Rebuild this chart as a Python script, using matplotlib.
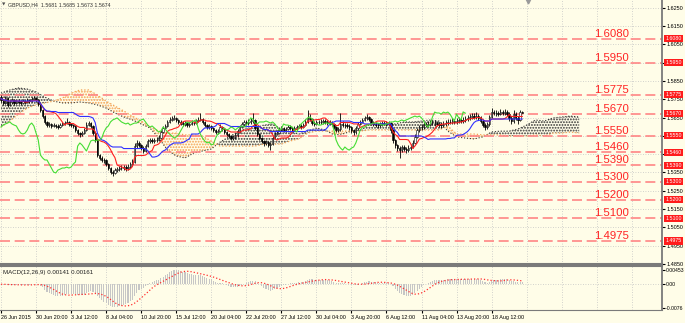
import numpy as np
import pandas as pd
import matplotlib
matplotlib.use("Agg")
import matplotlib.pyplot as plt
import matplotlib.transforms as mtransforms

# GBPUSD H4 candles, 26 Jun - 19 Aug 2015
first_open = 1.5762
close = [1.5746, 1.5730, 1.5757, 1.5719, 1.5735, 1.5746, 1.5730, 1.5740, 1.5735, 1.5730,
         1.5740, 1.5735, 1.5746, 1.5740, 1.5751, 1.5757, 1.5746, 1.5724, 1.5691, 1.5658,
         1.5626, 1.5609, 1.5615, 1.5604, 1.5609, 1.5604, 1.5598, 1.5609, 1.5615, 1.5620,
         1.5626, 1.5615, 1.5609, 1.5604, 1.5582, 1.5565, 1.5560, 1.5565, 1.5582, 1.5609,
         1.5620, 1.5604, 1.5565, 1.5527, 1.5445, 1.5429, 1.5418, 1.5418, 1.5396, 1.5374,
         1.5352, 1.5347, 1.5363, 1.5368, 1.5374, 1.5374, 1.5379, 1.5374, 1.5379, 1.5396,
         1.5407, 1.5494, 1.5511, 1.5500, 1.5483, 1.5467, 1.5494, 1.5522, 1.5527, 1.5522,
         1.5527, 1.5527, 1.5538, 1.5571, 1.5593, 1.5604, 1.5626, 1.5637, 1.5642, 1.5648,
         1.5637, 1.5626, 1.5620, 1.5615, 1.5620, 1.5609, 1.5615, 1.5620, 1.5620, 1.5631,
         1.5637, 1.5642, 1.5626, 1.5609, 1.5598, 1.5604, 1.5593, 1.5582, 1.5571, 1.5576,
         1.5598, 1.5587, 1.5571, 1.5560, 1.5549, 1.5538, 1.5544, 1.5555, 1.5576, 1.5598,
         1.5615, 1.5626, 1.5620, 1.5626, 1.5631, 1.5637, 1.5593, 1.5560, 1.5538, 1.5522,
         1.5511, 1.5516, 1.5500, 1.5505, 1.5538, 1.5560, 1.5565, 1.5582, 1.5593, 1.5582,
         1.5587, 1.5598, 1.5593, 1.5582, 1.5593, 1.5598, 1.5604, 1.5598, 1.5609, 1.5626,
         1.5648, 1.5642, 1.5620, 1.5615, 1.5626, 1.5626, 1.5626, 1.5631, 1.5626, 1.5620,
         1.5626, 1.5615, 1.5598, 1.5582, 1.5587, 1.5615, 1.5609, 1.5609, 1.5604, 1.5598,
         1.5582, 1.5571, 1.5593, 1.5615, 1.5626, 1.5637, 1.5648, 1.5653, 1.5642, 1.5620,
         1.5615, 1.5609, 1.5609, 1.5615, 1.5620, 1.5620, 1.5615, 1.5620, 1.5582, 1.5527,
         1.5500, 1.5483, 1.5472, 1.5489, 1.5478, 1.5472, 1.5483, 1.5489, 1.5511, 1.5544,
         1.5582, 1.5598, 1.5598, 1.5609, 1.5609, 1.5615, 1.5620, 1.5620, 1.5620, 1.5615,
         1.5609, 1.5609, 1.5615, 1.5620, 1.5626, 1.5626, 1.5631, 1.5626, 1.5631, 1.5637,
         1.5631, 1.5637, 1.5642, 1.5648, 1.5653, 1.5658, 1.5653, 1.5658, 1.5648, 1.5631,
         1.5609, 1.5598, 1.5615, 1.5653, 1.5680, 1.5675, 1.5675, 1.5669, 1.5680, 1.5675,
         1.5680, 1.5669, 1.5648, 1.5631, 1.5669, 1.5648, 1.5637, 1.5681, 1.5674]
high = [1.5773, 1.5751, 1.5768, 1.5762, 1.5746, 1.5757, 1.5751, 1.5746, 1.5751, 1.5746,
        1.5751, 1.5746, 1.5757, 1.5751, 1.5762, 1.5768, 1.5762, 1.5751, 1.5730, 1.5697,
        1.5664, 1.5631, 1.5626, 1.5620, 1.5620, 1.5615, 1.5615, 1.5620, 1.5626, 1.5631,
        1.5648, 1.5631, 1.5620, 1.5615, 1.5609, 1.5587, 1.5571, 1.5576, 1.5593, 1.5626,
        1.5631, 1.5626, 1.5609, 1.5571, 1.5533, 1.5451, 1.5440, 1.5429, 1.5423, 1.5401,
        1.5379, 1.5363, 1.5374, 1.5379, 1.5385, 1.5390, 1.5390, 1.5390, 1.5396, 1.5407,
        1.5423, 1.5511, 1.5527, 1.5522, 1.5505, 1.5494, 1.5505, 1.5533, 1.5538, 1.5538,
        1.5538, 1.5544, 1.5555, 1.5582, 1.5604, 1.5615, 1.5637, 1.5653, 1.5658, 1.5664,
        1.5653, 1.5642, 1.5637, 1.5631, 1.5631, 1.5626, 1.5626, 1.5637, 1.5631, 1.5642,
        1.5653, 1.5675, 1.5648, 1.5631, 1.5615, 1.5615, 1.5609, 1.5598, 1.5587, 1.5587,
        1.5615, 1.5604, 1.5593, 1.5576, 1.5565, 1.5555, 1.5555, 1.5565, 1.5587, 1.5609,
        1.5626, 1.5637, 1.5637, 1.5642, 1.5648, 1.5675, 1.5642, 1.5598, 1.5565, 1.5544,
        1.5527, 1.5527, 1.5522, 1.5516, 1.5549, 1.5571, 1.5582, 1.5593, 1.5604, 1.5598,
        1.5598, 1.5609, 1.5609, 1.5598, 1.5604, 1.5609, 1.5615, 1.5615, 1.5620, 1.5642,
        1.5691, 1.5669, 1.5648, 1.5631, 1.5637, 1.5637, 1.5642, 1.5642, 1.5642, 1.5637,
        1.5637, 1.5631, 1.5620, 1.5604, 1.5598, 1.5675, 1.5631, 1.5620, 1.5620, 1.5615,
        1.5604, 1.5587, 1.5604, 1.5626, 1.5637, 1.5648, 1.5658, 1.5669, 1.5658, 1.5648,
        1.5631, 1.5626, 1.5620, 1.5626, 1.5631, 1.5631, 1.5631, 1.5631, 1.5626, 1.5587,
        1.5533, 1.5505, 1.5494, 1.5500, 1.5500, 1.5489, 1.5500, 1.5505, 1.5527, 1.5560,
        1.5593, 1.5609, 1.5615, 1.5626, 1.5626, 1.5631, 1.5637, 1.5637, 1.5637, 1.5631,
        1.5626, 1.5626, 1.5631, 1.5637, 1.5642, 1.5642, 1.5648, 1.5642, 1.5648, 1.5653,
        1.5648, 1.5653, 1.5658, 1.5664, 1.5669, 1.5675, 1.5675, 1.5680, 1.5669, 1.5658,
        1.5642, 1.5620, 1.5626, 1.5664, 1.5702, 1.5691, 1.5691, 1.5686, 1.5697, 1.5691,
        1.5697, 1.5691, 1.5680, 1.5658, 1.5691, 1.5680, 1.5658, 1.5691, 1.5685]
low = [1.5735, 1.5719, 1.5724, 1.5708, 1.5713, 1.5724, 1.5719, 1.5724, 1.5724, 1.5719,
       1.5724, 1.5724, 1.5730, 1.5730, 1.5735, 1.5746, 1.5735, 1.5713, 1.5680, 1.5648,
       1.5615, 1.5598, 1.5598, 1.5593, 1.5598, 1.5593, 1.5587, 1.5593, 1.5604, 1.5609,
       1.5615, 1.5604, 1.5598, 1.5593, 1.5571, 1.5555, 1.5544, 1.5549, 1.5560, 1.5576,
       1.5604, 1.5593, 1.5555, 1.5516, 1.5434, 1.5418, 1.5407, 1.5401, 1.5385, 1.5363,
       1.5341, 1.5330, 1.5341, 1.5352, 1.5358, 1.5363, 1.5363, 1.5358, 1.5363, 1.5374,
       1.5390, 1.5401, 1.5483, 1.5489, 1.5472, 1.5456, 1.5462, 1.5489, 1.5511, 1.5511,
       1.5511, 1.5516, 1.5522, 1.5533, 1.5565, 1.5587, 1.5598, 1.5620, 1.5631, 1.5637,
       1.5626, 1.5615, 1.5609, 1.5604, 1.5604, 1.5598, 1.5598, 1.5609, 1.5609, 1.5615,
       1.5626, 1.5631, 1.5615, 1.5598, 1.5587, 1.5587, 1.5582, 1.5571, 1.5560, 1.5560,
       1.5587, 1.5576, 1.5560, 1.5549, 1.5538, 1.5527, 1.5527, 1.5533, 1.5544, 1.5565,
       1.5593, 1.5604, 1.5609, 1.5609, 1.5615, 1.5620, 1.5582, 1.5549, 1.5527, 1.5511,
       1.5494, 1.5500, 1.5489, 1.5472, 1.5500, 1.5533, 1.5555, 1.5560, 1.5576, 1.5571,
       1.5571, 1.5582, 1.5582, 1.5571, 1.5576, 1.5582, 1.5593, 1.5587, 1.5593, 1.5604,
       1.5620, 1.5631, 1.5609, 1.5604, 1.5609, 1.5615, 1.5615, 1.5615, 1.5615, 1.5609,
       1.5609, 1.5604, 1.5587, 1.5571, 1.5571, 1.5576, 1.5598, 1.5593, 1.5593, 1.5582,
       1.5565, 1.5555, 1.5560, 1.5582, 1.5609, 1.5620, 1.5631, 1.5637, 1.5631, 1.5609,
       1.5604, 1.5598, 1.5593, 1.5598, 1.5604, 1.5609, 1.5604, 1.5604, 1.5565, 1.5511,
       1.5483, 1.5467, 1.5429, 1.5462, 1.5467, 1.5456, 1.5462, 1.5472, 1.5483, 1.5505,
       1.5538, 1.5571, 1.5582, 1.5587, 1.5598, 1.5598, 1.5604, 1.5609, 1.5604, 1.5604,
       1.5598, 1.5593, 1.5598, 1.5604, 1.5609, 1.5615, 1.5615, 1.5615, 1.5615, 1.5620,
       1.5620, 1.5620, 1.5626, 1.5631, 1.5637, 1.5642, 1.5642, 1.5642, 1.5637, 1.5620,
       1.5598, 1.5582, 1.5587, 1.5604, 1.5648, 1.5664, 1.5658, 1.5658, 1.5664, 1.5664,
       1.5664, 1.5658, 1.5631, 1.5615, 1.5620, 1.5637, 1.5615, 1.5631, 1.5673]

# Ichimoku cloud spans (read every 4 bars, bar 0 .. 264)
span_bars = list(range(0, 265, 4))
span_a = [1.5784, 1.5801, 1.5812, 1.5806, 1.5790, 1.5762, 1.5740, 1.5730, 1.5730, 1.5735,
          1.5730, 1.5719, 1.5702, 1.5675, 1.5653, 1.5637, 1.5615, 1.5593, 1.5538, 1.5472,
          1.5440, 1.5429, 1.5456, 1.5467, 1.5478, 1.5516, 1.5544, 1.5571, 1.5593, 1.5593,
          1.5609, 1.5615, 1.5587, 1.5571, 1.5560, 1.5576, 1.5593, 1.5582, 1.5555, 1.5560,
          1.5576, 1.5582, 1.5609, 1.5615, 1.5615, 1.5615, 1.5626, 1.5626, 1.5631, 1.5637,
          1.5631, 1.5576, 1.5544, 1.5538, 1.5533, 1.5544, 1.5571, 1.5576, 1.5576, 1.5587,
          1.5609, 1.5637, 1.5631, 1.5648, 1.5653, 1.5658, 1.5653]
span_b = [1.5598, 1.5631, 1.5669, 1.5702, 1.5719, 1.5730, 1.5740, 1.5757, 1.5784, 1.5801,
          1.5801, 1.5773, 1.5740, 1.5713, 1.5686, 1.5658, 1.5631, 1.5598, 1.5576, 1.5565,
          1.5565, 1.5555, 1.5555, 1.5549, 1.5522, 1.5494, 1.5494, 1.5494, 1.5494, 1.5494,
          1.5505, 1.5505, 1.5505, 1.5522, 1.5533, 1.5565, 1.5576, 1.5576, 1.5576, 1.5576,
          1.5576, 1.5576, 1.5582, 1.5582, 1.5582, 1.5582, 1.5582, 1.5582, 1.5582, 1.5582,
          1.5582, 1.5604, 1.5560, 1.5560, 1.5560, 1.5555, 1.5555, 1.5555, 1.5549, 1.5549,
          1.5549, 1.5555, 1.5549, 1.5565, 1.5565, 1.5571, 1.5565]

levels = [1.6080, 1.5950, 1.5775, 1.5670, 1.5550, 1.5460, 1.5390, 1.5300, 1.5200, 1.5100, 1.4975]
price_ticks = [1.4850, 1.4950, 1.5050, 1.5150, 1.5250, 1.5350, 1.5450, 1.5550, 1.5650,
               1.5750, 1.5850, 1.5950, 1.6050, 1.6150, 1.6250]
time_labels = ["26 Jun 2015", "30 Jun 20:00", "3 Jul 12:00", "8 Jul 04:00", "10 Jul 20:00",
               "15 Jul 12:00", "20 Jul 04:00", "22 Jul 20:00", "27 Jul 12:00", "30 Jul 04:00",
               "3 Aug 20:00", "6 Aug 12:00", "11 Aug 04:00", "13 Aug 20:00", "18 Aug 12:00"]
macd_ticks = [-0.0076, 0.0, 0.00453]
macd_tick_labels = ["-0.0076", "0.00", "0.00453"]

BG = "#fffde8"
GRID = "#c4c4c4"
plt.rcParams['font.family'] = ['Liberation Sans Narrow', 'Liberation Sans', 'DejaVu Sans']
plt.rcParams['hatch.linewidth'] = 0.9

c = np.array(close)
h = np.array(high)
l = np.array(low)
o = np.concatenate([[first_open], c[:-1]])
h = np.maximum(h, np.maximum(o, c))
l = np.minimum(l, np.minimum(o, c))
x = np.arange(len(c))

hs, ls_ = pd.Series(h), pd.Series(l)
tenkan = (hs.rolling(9, min_periods=1).max() + ls_.rolling(9, min_periods=1).min()) / 2
kijun = (hs.rolling(26, min_periods=1).max() + ls_.rolling(26, min_periods=1).min()) / 2

cs = pd.Series(c)
macd = cs.ewm(span=12, adjust=False).mean() - cs.ewm(span=26, adjust=False).mean()
signal = macd.rolling(9, min_periods=1).mean()

fig = plt.figure(figsize=(6.85, 3.23), dpi=100, facecolor=BG)
ax = fig.add_axes([0, 59 / 323, 662 / 685, 264 / 323], facecolor=BG)
ax2 = fig.add_axes([0, 13 / 323, 662 / 685, 44 / 323], facecolor=BG, sharex=ax)

xmin, xmax = -0.46, 301.8
ax.set_xlim(xmin, xmax)
ax.set_ylim(1.4849, 1.6293)

# grid
grid_x = np.arange(0, 300, 16)
for a in (ax, ax2):
    for gx in grid_x:
        a.axvline(gx, color=GRID, lw=0.6, ls=(0, (1, 2)), zorder=0)
for py in price_ticks:
    ax.axhline(py, color=GRID, lw=0.6, ls=(0, (1, 2)), zorder=0)
ax2.axhline(0, color=GRID, lw=0.6, ls=(0, (1, 2)), zorder=0)

# cloud
sx = np.array(span_bars)
sa = np.array(span_a)
sb = np.array(span_b)
ax.fill_between(sx, sa, sb, where=sa >= sb, interpolate=True, facecolor='none',
                edgecolor='#333333', hatch='......', lw=0, zorder=1)
ax.fill_between(sx, sa, sb, where=sa < sb, interpolate=True, facecolor='none',
                edgecolor='#f4a050', hatch='......', lw=0, zorder=1)
ax.plot(sx, sa, color='#333333', ls=':', lw=0.8, zorder=1)
ax.plot(sx, sb, color='#f4a050', ls=':', lw=0.9, zorder=1)

# levels
for lev in levels:
    ax.axhline(lev, color='#ff8585', lw=1.2, dashes=(6, 2.8), zorder=2)
    ax.text(278.8, lev + 0.0011, f"{lev:.4f}", ha='center', va='baseline',
            fontsize=8.2, color='#ff2424', zorder=6)

# candles
up = c >= o
ax.vlines(x, l, h, color='black', lw=0.6, zorder=3)
body = np.where(np.abs(c - o) < 0.00008, 0.00008, c - o)
ax.bar(x[up], body[up], bottom=o[up], width=0.62, color='white', edgecolor='black', lw=0.4, zorder=4)
ax.bar(x[~up], body[~up], bottom=o[~up], width=0.62, color='black', edgecolor='black', lw=0.4, zorder=4)

# ichimoku lines
ax.plot(x, tenkan, color='#ff2020', lw=0.8, zorder=5)
ax.plot(x, kijun, color='#3030ff', lw=0.8, zorder=5)
ax.plot(x[26:] - 26, c[26:], color='#44dd33', lw=0.8, zorder=5)

# right price axis
for a in (ax, ax2):
    for s in ('left', 'top'):
        a.spines[s].set_visible(False)
    a.spines['right'].set_color('#7a7a7a')
    a.spines['right'].set_linewidth(1.3)
ax.spines['bottom'].set_color('#7a7a7a')
ax.spines['bottom'].set_linewidth(1.5)
ax2.spines['top'].set_visible(True)
ax2.spines['top'].set_color('#7a7a7a')
ax2.spines['top'].set_linewidth(1.5)
ax2.spines['bottom'].set_color('#7a7a7a')

# tick labels hidden under a level tag are left blank, as on the chart
ax.yaxis.tick_right()
ax.set_yticks(price_ticks)
ax.set_yticklabels(["" if min(abs(p - lv) for lv in levels) < 0.0012 else f"{p:.4f}"
                    for p in price_ticks])
ax.tick_params(axis='y', labelsize=4, length=2, pad=1.2, colors='black')
ax.tick_params(axis='x', bottom=False, labelbottom=False)

trans = mtransforms.blended_transform_factory(ax.transAxes, ax.transData)
ax.text(1.005, 1.5674, "1.5674", transform=trans, fontsize=3.8, color='white', va='center',
        ha='left', clip_on=False, zorder=7,
        bbox=dict(boxstyle='square,pad=0.2', fc='#606060', ec='none'))
for lev in levels:
    ax.text(1.005, lev, f"{lev:.4f}", transform=trans, fontsize=3.8, color='white', va='center',
            ha='left', clip_on=False, zorder=8,
            bbox=dict(boxstyle='square,pad=0.2', fc='#ff1c1c', ec='none'))

# chart shift marker and title
ax.plot([240.5], [1.6288], marker='v', color='#9a9a9a', ms=3.5, clip_on=False, zorder=8)
fig.text(2 / 685, 1 - 5 / 323, "\u25bc", fontsize=3.2, color='#505050', va='center',
         family=['DejaVu Sans'])
fig.text(8 / 685, 1 - 5 / 323, "GBPUSD,H4  1.5681 1.5685 1.5673 1.5674", fontsize=3.8,
         color='#303030', va='center')

# MACD panel
ax2.bar(x, macd, width=0.5, color='#c6c6c6', zorder=2)
ax2.plot(x, signal, color='#ff3030', ls=':', lw=0.9, zorder=3)
ax2.set_ylim(-0.00824, 0.00581)
ax2.yaxis.tick_right()
ax2.set_yticks(macd_ticks)
ax2.set_yticklabels(macd_tick_labels)
ax2.tick_params(axis='y', labelsize=3.7, length=2, pad=1.0)
ax2.text(0.004, 0.9, "MACD(12,26,9) 0.00141 0.00161", transform=ax2.transAxes,
         fontsize=4.4, va='top', color='#202020')

ax2.set_xticks(np.arange(0, 225, 16))
ax2.set_xticklabels(time_labels, ha='left')
ax2.tick_params(axis='x', labelsize=3.9, length=2, pad=1.5, colors='black')
ax2.set_xlim(xmin, xmax)

fig.savefig("out.png", dpi=100, facecolor=BG)
